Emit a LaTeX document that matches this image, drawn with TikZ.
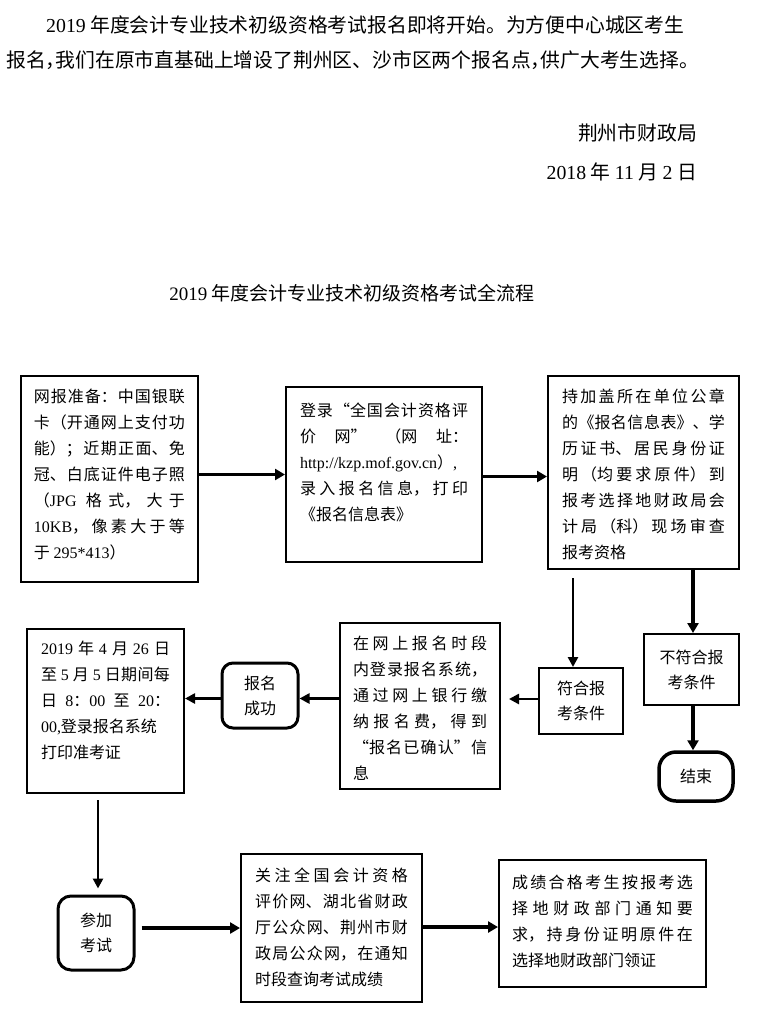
\documentclass[tikz,border=0pt]{standalone}
\usepackage{fontspec}
\setmainfont{Noto Sans CJK SC}
\newfontfamily\enfont{Liberation Serif}
\usetikzlibrary{arrows.meta}
\XeTeXlinebreaklocale "zh"
\XeTeXlinebreakskip=0pt plus 2pt
\newcommand{\en}[1]{{\enfont #1}}
\newcommand{\hcomma}{\makebox[0.5em][l]{，}}
\newcommand{\flowtext}[3]{\parbox[c][#2][t]{#1}{\fontsize{16pt}{26pt}\selectfont\tolerance=10000\hbadness=10000 #3}}

\tikzset{
	procbox/.style={draw, line width=2pt},
	condbox/.style={draw, line width=2pt, inner sep=0pt, align=center, font=\fontsize{16pt}{25pt}\selectfont},
	roundbox/.style={condbox, line width=3pt, rounded corners=11pt},
	flow/.style={line width=3.5pt, -{Triangle[length=10pt,width=11pt]}},
	thinflow/.style={line width=2.5pt, -{Triangle[length=10pt,width=10pt]}}
}

\begin{document}
\begin{tikzpicture}[x=1pt, y=-1pt]
	\useasboundingbox (0,0) rectangle (760,1012);

	% notice and title
	\begin{scope}[every node/.style={inner sep=0pt, font=\fontsize{19.8pt}{24pt}\selectfont}]
		\node[anchor=west] (intro1) at (46,25) {\en{2019} 年度会计专业技术初级资格考试报名即将开始。为方便中心城区考生};
		\node[anchor=west] (intro2) at (6,60) {报名\hcomma 我们在原市直基础上增设了荆州区、沙市区两个报名点\hcomma 供广大考生选择。};
		\node[anchor=east] (office) at (697,133) {荆州市财政局};
		\node[anchor=east] (date) at (697,172) {\en{2018} 年 \en{11} 月 \en{2} 日};
		\node[font=\fontsize{19pt}{24pt}\selectfont] (title) at (352,293) {\en{2019} 年度会计专业技术初级资格考试全流程};
	\end{scope}

	% first row
	\node[procbox, inner xsep=13pt, inner ysep=13pt] (prep) at (109.5,479) {\flowtext{151pt}{180pt}{网报准备：中国银联\linebreak
		卡（开通网上支付功\linebreak
		能）；近期正面、免\linebreak
		冠、白底证件电子照\linebreak
		（\en{JPG} 格式，大于\linebreak
		\en{10KB}，像素大于等\linebreak
		于 \en{295*413}）}};
	\node[procbox, inner xsep=14pt, inner ysep=16pt] (login) at (384,474.5) {\flowtext{168pt}{143pt}{登录“全国会计资格评\linebreak
		价网”（网址：\linebreak
		\mbox{\en{http://kzp.mof.gov.cn}）\en{,}}\linebreak
		录入报名信息，打印\linebreak
		《报名信息表》}};
	\node[procbox, inner xsep=14pt, inner ysep=13pt] (check) at (643.5,472.5) {\flowtext{163pt}{167pt}{持加盖所在单位公章\linebreak
		的《报名信息表》、学\linebreak
		历证书、居民身份证\linebreak
		明（均要求原件）到\linebreak
		报考选择地财政局会\linebreak
		计局（科）现场审查\linebreak
		报考资格}};

	% second row
	\node[condbox, minimum width=84pt, minimum height=66pt] (fit) at (581,701) {符合报\\考条件};
	\node[condbox, minimum width=95pt, minimum height=71pt] (nofit) at (691.5,669.5) {不符合报\\考条件};
	\node[roundbox, line width=3.5pt, rounded corners=17pt, minimum width=74pt, minimum height=49pt] (stop) at (696,776.5) {结束};
	\node[procbox, inner xsep=13pt, inner ysep=13pt] (pay) at (420,706) {\flowtext{134pt}{140pt}{在网上报名时段\linebreak
		内登录报名系统，\linebreak
		通过网上银行缴\linebreak
		纳报名费，得到\linebreak
		“报名已确认”信\linebreak
		息}};
	\node[roundbox, minimum width=76pt, minimum height=65pt] (ok) at (260,695.5) {报名\\成功};
	\node[procbox, inner xsep=14pt, inner ysep=12pt] (ticket) at (105.5,711) {\flowtext{129pt}{140pt}{\en{2019} 年 \en{4} 月 \en{26} 日\linebreak
		至 \en{5} 月 \en{5} 日期间每\linebreak
		日 \en{8}：\en{00} 至 \en{20}：\linebreak
		\mbox{\en{00,}登录报名系统}\linebreak
		打印准考证}};

	% third row
	\node[roundbox, rounded corners=13pt, minimum width=76pt, minimum height=74pt] (exam) at (96,933) {参加\\考试};
	\node[procbox, inner xsep=14pt, inner ysep=14pt] (score) at (331.5,928) {\flowtext{153pt}{120pt}{关注全国会计资格\linebreak
		评价网、湖北省财政\linebreak
		厅公众网、荆州市财\linebreak
		政局公众网，在通知\linebreak
		时段查询考试成绩}};
	\node[procbox, inner xsep=13pt, inner ysep=15pt] (cert) at (602.5,923.5) {\flowtext{181pt}{97pt}{成绩合格考生按报考选\linebreak
		择地财政部门通知要\linebreak
		求，持身份证明原件在\linebreak
		选择地财政部门领证}};

	% connectors
	\draw[flow] (prep.east |- login) -- (login.west);
	\draw[flow] ([yshift=-2pt]login.east) -- ([yshift=-2pt]login.east -| check.west);
	\draw[thinflow, shorten <=8pt] ([xshift=-8pt]fit.north |- check.south) -- ([xshift=-8pt]fit.north);
	\draw[flow] ([xshift=1.5pt]nofit.north |- check.south) -- ([xshift=1.5pt]nofit.north);
	\draw[flow] ([xshift=1.5pt]nofit.south) -- ([xshift=1.5pt]nofit.south |- stop.north);
	\draw[thinflow, shorten >=8pt] ([yshift=2pt]fit.west) -- ([yshift=2pt]fit.west -| pay.east);
	\draw[thinflow] ([yshift=-3pt]ok.east -| pay.west) -- ([yshift=-3pt]ok.east);
	\draw[thinflow] ([yshift=-3pt]ok.west) -- ([yshift=-3pt]ok.west -| ticket.east);
	\draw[thinflow, shorten <=6pt, shorten >=6pt] ([xshift=2pt]exam.north |- ticket.south) -- ([xshift=2pt]exam.north);
	\draw[flow, shorten <=6pt] (exam.east |- score) -- (score.west);
	\draw[flow] ([yshift=1pt]score.east) -- ([yshift=1pt]score.east -| cert.west);
\end{tikzpicture}
\end{document}
